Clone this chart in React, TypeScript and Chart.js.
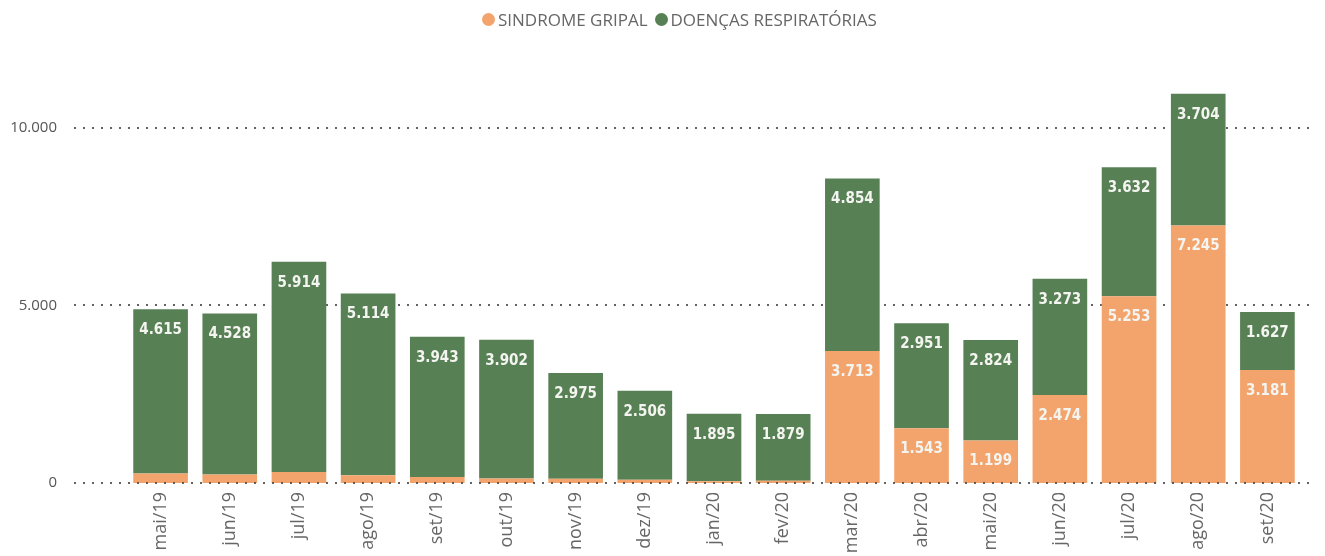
import React, { useEffect, useRef } from "react";
import { Chart, registerables } from "chart.js";

Chart.register(...registerables);

const categories = ["mai/19", "jun/19", "jul/19", "ago/19", "set/19", "out/19", "nov/19", "dez/19", "jan/20", "fev/20", "mar/20", "abr/20", "mai/20", "jun/20", "jul/20", "ago/20", "set/20"];
const sindromeGripal = [270, 240, 310, 220, 170, 130, 120, 90, 50, 60, 3713, 1543, 1199, 2474, 5253, 7245, 3181];
const doencasRespiratorias = [4615, 4528, 5914, 5114, 3943, 3902, 2975, 2506, 1895, 1879, 4854, 2951, 2824, 3273, 3632, 3704, 1627];
const yTickValues = [0, 5000, 10000];
const seriesNames = ["SINDROME GRIPAL", "DOENÇAS RESPIRATÓRIAS"];
const seriesColors = ["#F2A46C", "#578155"];

const fmt = (v: number) => String(Math.round(v)).replace(/\B(?=(\d{3})+(?!\d))/g, ".");

const drawDotted = (chart: any, v: number) => {
  const { ctx, chartArea, scales } = chart;
  ctx.save();
  ctx.strokeStyle = "rgba(70,70,70,0.85)";
  ctx.lineWidth = 2;
  ctx.setLineDash([2, 7]);
  const y = Math.round(scales.y.getPixelForValue(v));
  ctx.beginPath();
  ctx.moveTo(chartArea.left - 52, y);
  ctx.lineTo(chartArea.right + 8, y);
  ctx.stroke();
  ctx.restore();
};

const dottedGrid = {
  id: "dottedGrid",
  beforeDatasetsDraw(chart: any) {
    yTickValues.filter((v) => v !== 0).forEach((v) => drawDotted(chart, v));
  },
  afterDatasetsDraw(chart: any) {
    drawDotted(chart, 0);
  },
};

const barLabels = {
  id: "barLabels",
  afterDatasetsDraw(chart: any) {
    const { ctx } = chart;
    ctx.save();
    ctx.font = "bold 15px 'DejaVu Sans Condensed', 'DejaVu Sans', sans-serif";
    ctx.fillStyle = "#f4f4f0";
    ctx.textAlign = "center";
    ctx.textBaseline = "middle";
    chart.data.datasets.forEach((ds: any, di: number) => {
      const meta = chart.getDatasetMeta(di);
      meta.data.forEach((el: any, i: number) => {
        const h = el.base - el.y;
        if (h < 30) return;
        ctx.fillText(fmt(ds.data[i]), el.x, el.y + 21);
      });
    });
    ctx.restore();
  },
};

export default function App() {
  const ref = useRef<HTMLCanvasElement>(null);
  useEffect(() => {
    document.body.style.margin = "0";
    const chart = new Chart(ref.current as HTMLCanvasElement, {
      type: "bar",
      data: {
        labels: categories,
        datasets: [
          { label: seriesNames[0], data: sindromeGripal, backgroundColor: seriesColors[0], borderWidth: 0 },
          { label: seriesNames[1], data: doencasRespiratorias, backgroundColor: seriesColors[1], borderWidth: 0 },
        ],
      },
      options: {
        responsive: false,
        animation: false,
        layout: { padding: { top: 92, right: 23, left: 0, bottom: 0 } },
        datasets: { bar: { categoryPercentage: 1, barPercentage: 0.79 } },
        plugins: { legend: { display: false }, tooltip: { enabled: false } },
        scales: {
          x: {
            stacked: true,
            grid: { display: false, drawTicks: false },
            border: { display: false },
            ticks: {
              maxRotation: 90,
              minRotation: 90,
              padding: 9,
              color: "#666",
              font: { family: "'Open Sans', sans-serif", size: 18 },
            },
            afterFit: (s: any) => { s.height = 73; },
          },
          y: {
            stacked: true,
            min: 0,
            max: 11000,
            grid: { display: false, drawTicks: false },
            border: { display: false },
            afterBuildTicks: (s: any) => { s.ticks = yTickValues.map((v) => ({ value: v })); },
            ticks: {
              padding: 69,
              color: "#555",
              font: { family: "'Open Sans', sans-serif", size: 15 },
              callback: (v: any) => fmt(Number(v)),
            },
            afterFit: (s: any) => { s.width = 126; s.paddingTop = 0; s.paddingBottom = 0; },
          },
        },
      },
      plugins: [dottedGrid, barLabels],
    });
    return () => chart.destroy();
  }, []);

  return (
    <div style={{ position: "relative", width: 1325, height: 556, background: "#fff", overflow: "hidden" }}>
      <div style={{ position: "absolute", left: 482, top: 7, display: "flex", alignItems: "center", fontFamily: "'Open Sans', sans-serif", fontSize: 17, color: "#666", whiteSpace: "nowrap", height: 24 }}>
        {seriesNames.map((n, i) => (
          <div key={n} style={{ display: "flex", alignItems: "center", marginRight: 7 }}>
            <span style={{ display: "inline-block", width: 13, height: 13, borderRadius: "50%", background: seriesColors[i], marginRight: 3 }} />
            <span>{n}</span>
          </div>
        ))}
      </div>
      <canvas ref={ref} width={1325} height={556} style={{ display: "block" }} />
    </div>
  );
}
